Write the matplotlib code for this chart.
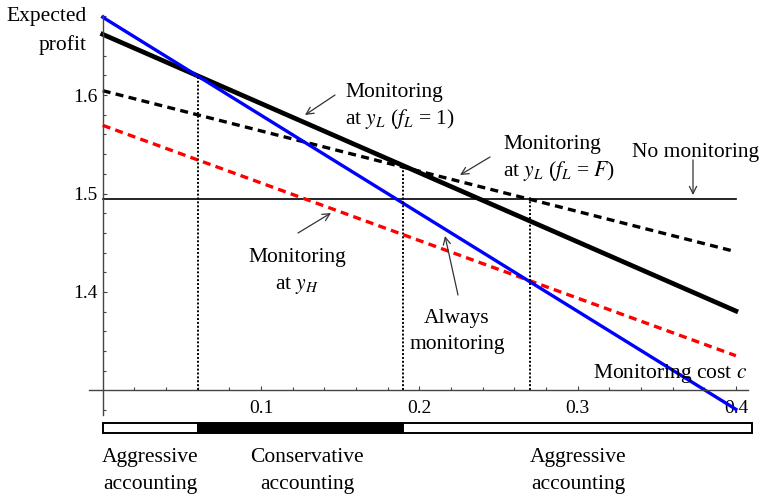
import numpy as np
import matplotlib
matplotlib.use("Agg")
import matplotlib.pyplot as plt

plt.rcParams['font.family'] = ['Liberation Serif', 'DejaVu Serif']
plt.rcParams['mathtext.fontset'] = 'stix'

# line end points (monitoring cost c from 0 to 0.4)
cost = [0.0, 0.4]
monitor_low_f1 = [1.6616, 1.3807]
monitor_low_fF = [1.6044, 1.4409]
no_monitor = [1.4944, 1.4944]
monitor_high = [1.5692, 1.3353]
always_monitor = [1.679, 1.2809]

# cut-off costs and where their dotted guides stop
thresholds = [0.06, 0.19, 0.27]
threshold_tops = [1.619, 1.527, 1.496]

# accounting regimes along the bottom strip
regime_edges = [0.0, 0.06, 0.19, 0.41]
regime_fill = ['white', 'black', 'white']
regime_names = ['Aggressive\naccounting', 'Conservative\naccounting', 'Aggressive\naccounting']
regime_centers = [0.0302, 0.129, 0.3003]

x_ticks = [0.1, 0.2, 0.3, 0.4]
x_tick_labels = ['0.1', '0.2', '0.3', '0.4']
y_ticks = [1.4, 1.5, 1.6]
y_tick_labels = ['1.4', '1.5', '1.6']

W, H = 762, 494
fig = plt.figure(figsize=(W / 100, H / 100), dpi=100)
ax = fig.add_axes([0, 0, 1, 1])
ax.set_xlim(-0.06488, 0.41649)
ax.set_ylim(1.19492, 1.69645)


def px(x, y):
    """pixel position in the picture -> axes fraction"""
    return x / W, 1 - y / H


# axes crossing at (0, 1.3)
axis_col = '#444444'
for side in ['top', 'right']:
    ax.spines[side].set_visible(False)
ax.spines['left'].set_position(('data', 0))
ax.spines['left'].set_bounds(1.275, 1.681)
ax.spines['bottom'].set_position(('data', 1.3))
ax.spines['bottom'].set_bounds(-0.0085, 0.4076)
for side in ['left', 'bottom']:
    ax.spines[side].set_color(axis_col)
    ax.spines[side].set_linewidth(1.0)

ax.set_xticks(x_ticks)
ax.set_xticklabels(x_tick_labels)
ax.set_xticks([v for v in np.arange(0.02, 0.4, 0.02) if not np.isclose(v * 10, round(v * 10))], minor=True)
ax.set_yticks(y_ticks)
ax.set_yticklabels(y_tick_labels)
ax.set_yticks([v for v in np.arange(1.28, 1.69, 0.02) if not np.isclose(v * 10, round(v * 10))], minor=True)
ax.tick_params(which='both', direction='in', color=axis_col, labelsize=14)
ax.tick_params(which='major', length=3.2, width=0.8)
ax.tick_params(which='minor', length=2, width=0.8)
ax.tick_params(axis='x', pad=7)
ax.tick_params(axis='y', pad=4)

# curves
ax.plot(cost, no_monitor, color='black', lw=1.2)
ax.plot(cost, monitor_low_fF, color='black', lw=2.4, dashes=(2.4, 1.6))
ax.plot(cost, monitor_high, color='#ff0000', lw=2.4, dashes=(2.4, 1.6))
ax.plot(cost, monitor_low_f1, color='black', lw=3.4)
ax.plot(cost, always_monitor, color='#0000ff', lw=2.4)

ax.vlines(thresholds, 1.3, threshold_tops, colors='black', lw=1.4, linestyles=(0, (1, 1)))

# regime strip
ax.barh(1.2619, np.diff(regime_edges), left=regime_edges[:-1], height=0.0096,
        color=regime_fill, edgecolor='black', lw=1.4)

fs = 15.5


def lines(x, y0, rows, ha, gap=26.5):
    for i, row in enumerate(rows):
        ax.text(*px(x, y0 + i * gap), row, transform=ax.transAxes, ha=ha,
                va='baseline', fontsize=fs)


lines(87, 20.7, ['Expected', 'profit'], 'right', gap=29)
lines(345, 97.3, ['Monitoring', r'at $y_L$ ($f_L$ = 1)'], 'left')
lines(503, 149.3, ['Monitoring', r'at $y_L$ ($f_L$ = $F$)'], 'left')
lines(632, 156.7, ['No monitoring'], 'left')
lines(297, 262, ['Monitoring', r'at $y_H$'], 'center')
lines(457, 323, ['Always', 'monitoring'], 'center', gap=25.5)
lines(747, 378, [r'Monitoring cost $c$'], 'right')

for name, xc in zip(regime_names, regime_centers):
    top, bottom = name.split('\n')
    ax.text(xc, 1.4 - (461.7 - 292) / 985, top, ha='center', va='baseline', fontsize=fs)
    ax.text(xc, 1.4 - (489 - 292) / 985, bottom, ha='center', va='baseline', fontsize=fs)

# pointer arrows
arrows = [((335, 95), (305, 115)), ((490, 157), (460, 175)), ((693, 160), (693, 195)),
          ((298, 233), (331, 213)), ((458, 295), (445, 236))]
for tail, head in arrows:
    ax.annotate('', xy=px(*head), xytext=px(*tail), xycoords='axes fraction',
                textcoords='axes fraction',
                arrowprops=dict(arrowstyle='->', color='#333333', lw=0.9,
                                shrinkA=0, shrinkB=0, mutation_scale=13))

fig.savefig('out.png', dpi=100)
